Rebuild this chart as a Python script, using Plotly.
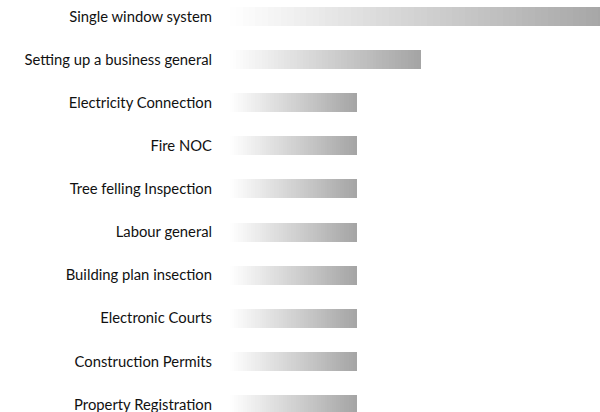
import plotly.graph_objects as go

categories = [
    "Single window system",
    "Setting up a business general",
    "Electricity Connection",
    "Fire NOC",
    "Tree felling Inspection",
    "Labour general",
    "Building plan insection",
    "Electronic Courts",
    "Construction Permits",
    "Property Registration",
]
values = [3, 1.5, 1, 1, 1, 1, 1, 1, 1, 1]

N_STEPS = 60
start_rgb = (255, 255, 255)
end_rgb = (164, 164, 164)

fig = go.Figure()
for k in range(N_STEPS):
    t = (k + 0.5) / N_STEPS
    c = tuple(round(s + (e - s) * t) for s, e in zip(start_rgb, end_rgb))
    fig.add_trace(go.Bar(
        y=categories,
        x=[v / N_STEPS for v in values],
        orientation="h",
        width=0.44,
        marker=dict(color=f"rgb({c[0]},{c[1]},{c[2]})", line=dict(width=0)),
        showlegend=False,
        hoverinfo="skip",
    ))

fig.update_layout(
    barmode="stack",
    width=600,
    height=412,
    margin=dict(l=230, r=0, t=0, b=0),
    paper_bgcolor="white",
    plot_bgcolor="white",
    font=dict(family="Lato", size=14.8, color="#111111"),
    xaxis=dict(range=[0, 2.913], visible=False, showgrid=False, zeroline=False),
    yaxis=dict(
        range=[9.174, -0.383],
        showgrid=False,
        zeroline=False,
        showline=False,
        ticks="",
        ticklabelstandoff=17,
        automargin=False,
    ),
)

fig.write_html(
    "out.html",
    config={"displayModeBar": False},
    post_script="document.body.style.margin='0';document.body.style.overflow='hidden';",
)
